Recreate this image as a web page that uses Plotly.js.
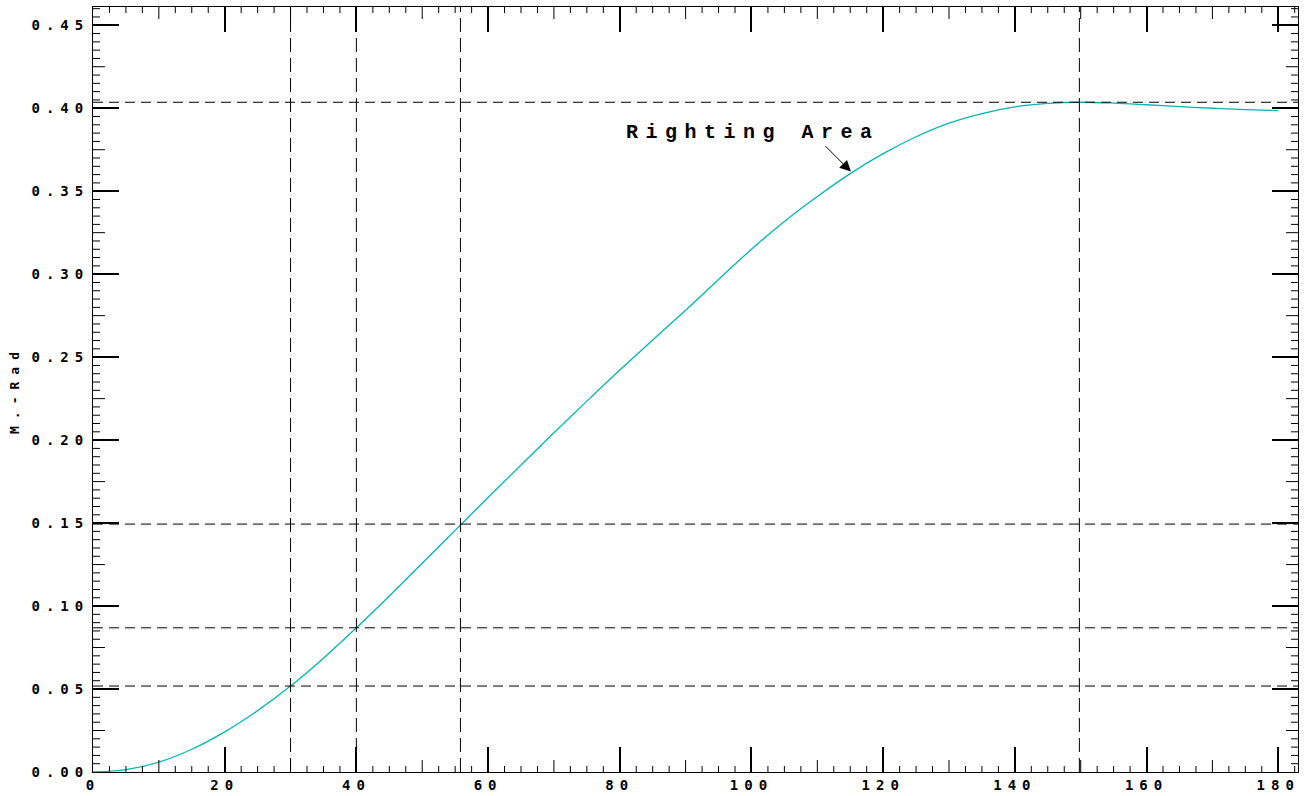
<!DOCTYPE html>
<html>
<head>
<meta charset="utf-8">
<script src="https://cdn.plot.ly/plotly-3.0.1.min.js"></script>
<style>
  html, body { margin: 0; padding: 0; background: #fff; }
  #chart { width: 1305px; height: 796px; }
  .xtick text, .ytick text { letter-spacing: 6px; }
  .ytitle { letter-spacing: 7px; }
  .annotation-text { letter-spacing: 7.5px; }
</style>
</head>
<body>
<div id="chart"></div>
<script>
// Heel angle (deg) and righting area (m-rad)
const heelAngle = [0, 5, 10, 15, 20, 25, 30, 35, 40, 45, 50, 55, 60, 65, 70, 75, 80, 85, 90,
  95, 100, 105, 110, 115, 120, 125, 130, 135, 140, 145, 150, 155, 160, 165, 170, 175, 180];
const rightingArea = [0.0000, 0.0014, 0.0059, 0.0137, 0.0242, 0.0370, 0.0518, 0.0686, 0.0869,
  0.1061, 0.1258, 0.1456, 0.1654, 0.1850, 0.2044, 0.2235, 0.2422, 0.2603, 0.2783,
  0.2968, 0.3150, 0.3318, 0.3468, 0.3606, 0.3726, 0.3828, 0.3910, 0.3968, 0.4008,
  0.4029, 0.4036, 0.4031, 0.4021, 0.4010, 0.4000, 0.3992, 0.3986];

// Reference (dashed) lines
const refAngles = [30, 40, 55.8, 149.8];
const refAreas = [0.0518, 0.0869, 0.1494, 0.4036];

// Annotation
const labelText = 'Righting Area';
const labelPos = [100.3, 0.3854];
const arrowTip = [115.1, 0.3618];

const xRange = [0, 183];
const yRange = [0, 0.461];

// tick spacing: [major, medium, minor]
const xTickSteps = [20, 10, 2.5];
const yTickSteps = [0.05, 0.025, 0.005];

const shapes = [];
refAngles.forEach(a => shapes.push({
  type: 'line', xref: 'x', yref: 'paper', x0: a, x1: a, y0: 0, y1: 1,
  line: {color: '#000', width: 1, dash: '14px,6px'}
}));
refAreas.forEach(v => shapes.push({
  type: 'line', xref: 'paper', yref: 'y', x0: 0, x1: 1, y0: v, y1: v,
  line: {color: '#000', width: 1, dash: '10px,6px'}
}));

// Medium and minor tick marks (inside, on all four sides), positioned by the axis scales
const tickLine = {color: '#000', width: 1};
function addXTicks(step, len, skipStep) {
  const n = Math.floor(xRange[1] / step + 1e-9);
  for (let i = 1; i <= n; i++) {
    const v = +(i * step).toFixed(6);
    if (Math.abs(v / skipStep - Math.round(v / skipStep)) < 1e-6) continue;
    shapes.push({type: 'line', xref: 'x', yref: 'paper', ysizemode: 'pixel', yanchor: 0,
      x0: v, x1: v, y0: 0, y1: len, line: tickLine});
    shapes.push({type: 'line', xref: 'x', yref: 'paper', ysizemode: 'pixel', yanchor: 1,
      x0: v, x1: v, y0: 0, y1: -len, line: tickLine});
  }
}
function addYTicks(step, len, skipStep) {
  const n = Math.floor(yRange[1] / step + 1e-9);
  for (let i = 1; i <= n; i++) {
    const v = +(i * step).toFixed(6);
    if (Math.abs(v / skipStep - Math.round(v / skipStep)) < 1e-6) continue;
    shapes.push({type: 'line', xref: 'paper', yref: 'y', xsizemode: 'pixel', xanchor: 0,
      y0: v, y1: v, x0: 0, x1: len, line: tickLine});
    shapes.push({type: 'line', xref: 'paper', yref: 'y', xsizemode: 'pixel', xanchor: 1,
      y0: v, y1: v, x0: 0, x1: -len, line: tickLine});
  }
}
addXTicks(xTickSteps[1], 12, xTickSteps[0]);
addXTicks(xTickSteps[2], 6, xTickSteps[1]);
addYTicks(yTickSteps[1], 12, yTickSteps[0]);
addYTicks(yTickSteps[2], 7, yTickSteps[1]);

const tickFont = {family: 'DejaVu Sans Mono', size: 14, color: '#000', weight: 'bold'};

const traces = [
  {
    x: heelAngle, y: rightingArea, type: 'scatter', mode: 'lines',
    line: {color: 'rgb(0,182,182)', width: 1.3, shape: 'spline'},
    hoverinfo: 'x+y', showlegend: false
  }
];

const layout = {
  width: 1305, height: 796,
  margin: {l: 93, r: 7, t: 7, b: 24},
  paper_bgcolor: '#fff', plot_bgcolor: '#fff',
  showlegend: false,
  xaxis: {
    range: xRange, showgrid: false, zeroline: false,
    showline: true, linecolor: '#000', linewidth: 1, mirror: 'ticks',
    ticks: 'inside', ticklen: 25, tickwidth: 2, tickcolor: '#000',
    tick0: 0, dtick: xTickSteps[0], tickfont: tickFont
  },
  yaxis: {
    range: yRange, showgrid: false, zeroline: false,
    showline: true, linecolor: '#000', linewidth: 1, mirror: 'ticks',
    ticks: 'inside', ticklen: 26, tickwidth: 2, tickcolor: '#000',
    tick0: 0, dtick: yTickSteps[0], tickformat: '.2f', tickfont: tickFont,
    title: {text: 'M.-Rad', font: {family: 'DejaVu Sans Mono', size: 13, color: '#000', weight: 'bold'}, standoff: 8}
  },
  shapes: shapes,
  annotations: [
    {
      x: labelPos[0], y: labelPos[1], xref: 'x', yref: 'y', text: labelText, showarrow: false,
      font: {family: 'Liberation Mono', size: 20, color: '#000', weight: 'bold'}
    },
    {
      x: arrowTip[0], y: arrowTip[1], xref: 'x', yref: 'y', text: '', showarrow: true,
      ax: -27, ay: -27, arrowhead: 2, arrowsize: 2.2, arrowwidth: 1, arrowcolor: '#000', standoff: 0
    }
  ]
};

Plotly.newPlot('chart', traces, layout, {displayModeBar: false, staticPlot: true});
</script>
</body>
</html>
